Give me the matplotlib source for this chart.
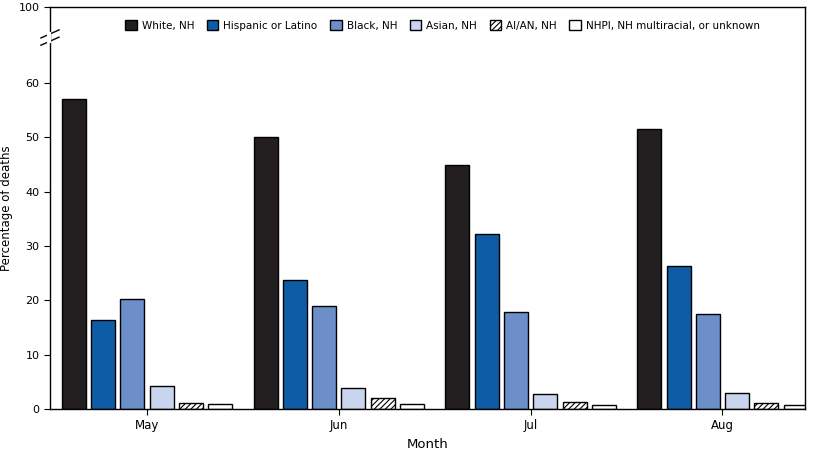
import numpy as np
import matplotlib.pyplot as plt

months = ["May", "Jun", "Jul", "Aug"]
groups = ["White, NH", "Hispanic or Latino", "Black, NH", "Asian, NH", "AI/AN, NH",
          "NHPI, NH multiracial, or unknown"]
white = [57.0, 50.1, 45.0, 51.6]
hispanic = [16.3, 23.8, 32.3, 26.4]
black = [20.3, 19.0, 17.8, 17.4]
asian = [4.2, 3.8, 2.7, 2.9]
aian = [1.1, 2.1, 1.2, 1.1]
nhpi = [1.0, 1.0, 0.8, 0.7]
series = [white, hispanic, black, asian, aian, nhpi]

colors = ["#231f20", "#0f5ca6", "#6c8fca", "#c9d5ee", "white", "white"]
hatches = [None, None, None, None, "//////", None]
plt.rcParams["hatch.linewidth"] = 0.8

fig = plt.figure(figsize=(8.13, 4.57), dpi=100)
ax = fig.add_axes([50 / 813, 48 / 457, 755 / 813, 402 / 457])
x = np.arange(len(months))
w = 0.125
for i, (vals, c, h) in enumerate(zip(series, colors, hatches)):
    ax.bar(x + (i - 2.5) * w * 1.22, vals, w, color=c, edgecolor="black", linewidth=1,
           hatch=h, label=groups[i])

ax.set_xlim(-0.505, 3.43)
ax.set_ylim(0, 74)
ax.set_yticks([0, 10, 20, 30, 40, 50, 60, 74])
ax.set_yticklabels(["0", "10", "20", "30", "40", "50", "60", "100"], fontsize=8)
ax.set_xticks(x)
ax.set_xticklabels(months, fontsize=8.5)
ax.set_xlabel("Month", fontsize=9.5)
ax.set_ylabel("Percentage of deaths", fontsize=8.5)
ax.tick_params(length=4)
for s in ax.spines.values():
    s.set_linewidth(1)

# axis break marks
kw = dict(transform=ax.transAxes, color="black", clip_on=False, lw=1)
for dy in (0, 0.018):
    ax.plot([-0.012, 0.012], [0.905 + dy, 0.925 + dy], **kw)
ax.plot([-0.001, -0.001], [0.915, 0.933], transform=ax.transAxes, color="white",
        clip_on=False, lw=3, zorder=5)

ax.legend(loc="upper center", ncol=6, frameon=False, fontsize=7.5,
          bbox_to_anchor=(0.52, 0.99), handlelength=1.1, handleheight=1.1,
          columnspacing=1.2, handletextpad=0.5)

fig.savefig("out.png", dpi=100)
